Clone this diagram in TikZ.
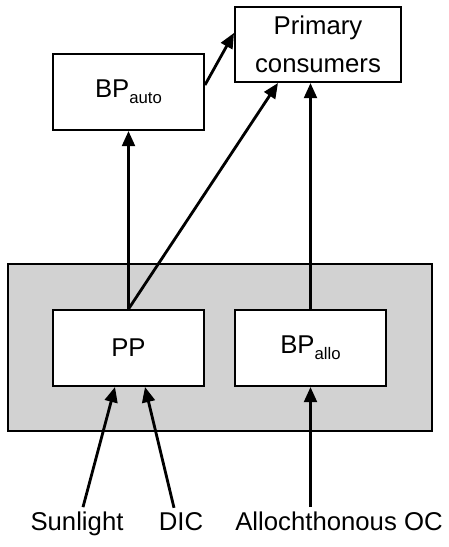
\documentclass[tikz,border=0pt]{standalone}
\usepackage{fontspec}
\setmainfont{Liberation Sans}
\usetikzlibrary{arrows.meta}
\newcommand{\indice}[1]{\raisebox{-4.3pt}{\fontsize{11.9}{12}\selectfont #1}}
\tikzset{
  boite/.style={draw=black, line width=1.4pt, fill=white, minimum width=3.775cm, minimum height=1.9cm, inner sep=0pt, align=center, font=\fontsize{18.3}{27}\selectfont},
  fleche/.style={-{Triangle[length=0.38cm,width=0.32cm]}, line width=2pt},
  etiq/.style={anchor=base, inner xsep=0pt, inner ysep=2.8pt, font=\fontsize{18.3}{22}\selectfont}
}

\begin{document}
\begin{tikzpicture}
    \useasboundingbox (0,0) rectangle (11.225,13.675);
    % la zone grise
    \filldraw[fill=gray!35, draw=black, line width=1.4pt] (0.2,2.9) rectangle (10.8,7.075);
    \node[boite] (pp) at (3.2125,4.975) {PP};
    \node[boite] (bpallo) at (7.7625,4.975) {BP\indice{allo}};
    \node[boite] (bpauto) at (3.2125,11.375) {BP\indice{auto}};
    \node[boite, minimum width=4.15cm, minimum height=1.875cm] (prim) at (7.95,12.5625) {Primary\\consumers};
    \node[etiq] (sun) at (1.925,0.425) {Sunlight};
    \node[etiq] (dic) at (4.525,0.425) {DIC};
    \node[etiq] (aoc) at (8.475,0.425) {Allochthonous OC};
    % les flux
    \draw[fleche] ([xshift=0.15cm]sun.north) -- ([xshift=-0.3375cm]pp.south);
    \draw[fleche] ([xshift=-0.175cm]dic.north) -- ([xshift=0.4125cm]pp.south);
    \draw[fleche] (bpallo.south |- aoc.north) -- (bpallo.south);
    \draw[fleche] (pp.north) -- (bpauto.south);
    \draw[fleche] (pp.north) -- ([xshift=-1cm]prim.south);
    \draw[fleche] (bpallo.north) -- (bpallo.north |- prim.south);
    \draw[fleche] ([yshift=0.175cm]bpauto.east) -- ([yshift=0.29cm]prim.west);
\end{tikzpicture}
\end{document}
